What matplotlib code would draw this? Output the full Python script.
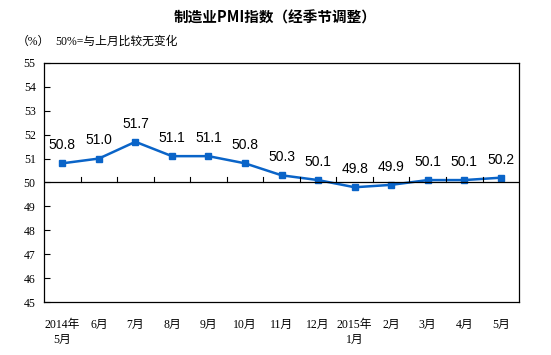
import matplotlib
matplotlib.use('Agg')
import matplotlib.pyplot as plt

plt.rcParams['font.family'] = ['Liberation Serif', 'Noto Sans CJK SC']

# months and manufacturing PMI values
months = ['2014年\n5月', '6月', '7月', '8月', '9月', '10月', '11月', '12月',
          '2015年\n1月', '2月', '3月', '4月', '5月']
pmi = [50.8, 51.0, 51.7, 51.1, 51.1, 50.8, 50.3, 50.1, 49.8, 49.9, 50.1, 50.1, 50.2]
yticks = [45, 46, 47, 48, 49, 50, 51, 52, 53, 54, 55]

blue = '#0a64c8'

fig = plt.figure(figsize=(5.51, 3.55), dpi=100)
ax = fig.add_axes([0.08, 0.149, 0.862, 0.674])

x = list(range(len(pmi)))
ax.plot(x, pmi, color=blue, lw=1.8, marker='s', ms=4.8, mfc=blue, mec=blue)

for xi, v in zip(x, pmi):
    ax.annotate('%.1f' % v, (xi, v), xytext=(0, 8), textcoords='offset points',
                ha='center', va='bottom', fontsize=10, family='Liberation Sans')

ax.set_xlim(-0.5, len(pmi) - 0.5)
ax.set_ylim(45, 55)
ax.set_yticks(yticks)
ax.set_yticklabels([str(t) for t in yticks], fontsize=8.5)
ax.tick_params(axis='y', direction='in', length=4, width=0.8, pad=6)

# category labels under the box, tick marks on the 50 line between months
ax.set_xticks(x)
ax.set_xticklabels(months, fontsize=8.5, linespacing=1.3)
ax.tick_params(axis='x', length=0, pad=12)
ax.axhline(50, color='black', lw=0.9)
for b in range(1, len(pmi)):
    ax.plot([b - 0.5, b - 0.5], [50, 50.22], color='black', lw=0.8)

for s in ax.spines.values():
    s.set_linewidth(0.9)

fig.text(0.5, 0.95, '制造业PMI指数（经季节调整）', ha='center', va='center',
         fontsize=10.5, fontweight='bold', family='Noto Sans CJK SC')
fig.text(0.03, 0.882, '（%）', ha='left', va='center', fontsize=8.5)
fig.text(0.1, 0.882, '50%=与上月比较无变化', ha='left', va='center', fontsize=8.5)

fig.savefig('out.png', dpi=100)
